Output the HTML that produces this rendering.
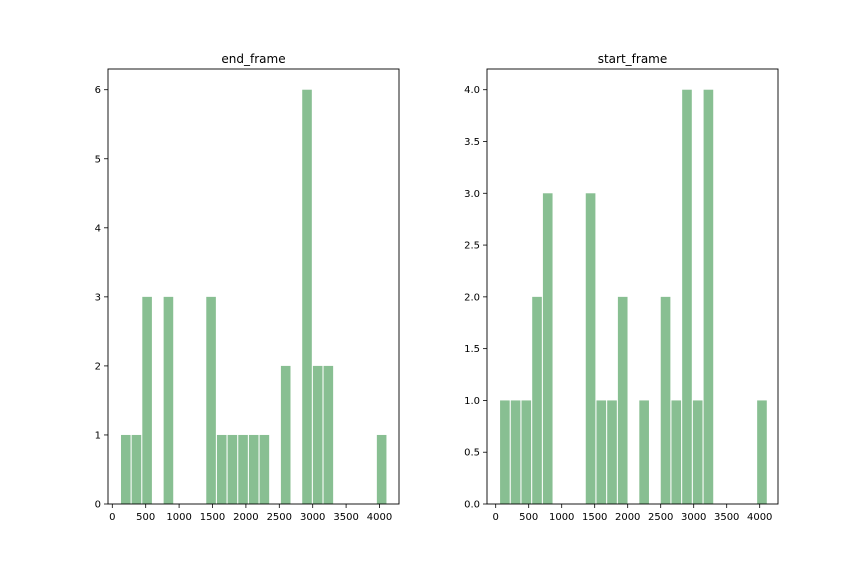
<!DOCTYPE html>
<html><head><meta charset="utf-8"><style>
body{margin:0;background:#fff;}
svg text{font-family:"DejaVu Sans","Liberation Sans",sans-serif;}
</style></head><body>
<svg id="c" width="864" height="576" xmlns="http://www.w3.org/2000/svg"></svg>
<script>
const endCounts = [1,1,3,0,3,0,0,0,3,1,1,1,1,1,0,2,0,6,2,2,0,0,0,0,1];
const startCounts = [1,1,1,2,3,0,0,0,3,1,1,2,0,1,0,2,1,4,1,4,0,0,0,0,1];
const endBinStart = 122, endBinWidth = 159.6;
const startBinStart = 58, startBinWidth = 162.3;
const xTicks = [0,500,1000,1500,2000,2500,3000,3500,4000];
const endYTicks = [0,1,2,3,4,5,6];
const startYTicks = [0,0.5,1,1.5,2,2.5,3,3.5,4];
const startYLabels = ["0.0","0.5","1.0","1.5","2.0","2.5","3.0","3.5","4.0"];

const svg = document.getElementById('c');
const NS = 'http://www.w3.org/2000/svg';
function mk(tag, attrs, parent){const e=document.createElementNS(NS,tag);for(const k in attrs)e.setAttribute(k,attrs[k]);(parent||svg).appendChild(e);return e;}

function panel(name, L, R, x0px, x4000px, ymax, counts, bs, bw, yt, yl, title){
  const T=69,B=504;
  const g = mk('g',{});
  
  
  const xs = v => x0px + (x4000px-x0px)*v/4000;
  const ys = v => B - (B-T)*v/ymax;
  counts.forEach((c,i)=>{
    if(!c) return;
    const a=bs+i*bw, w=bw*0.9, xa=xs(a+bw*0.05);
    const r=mk('rect',{x:xa,y:ys(c),width:xs(a+bw*0.05+w)-xa,height:B-ys(c),fill:'#88bf92'},g);
    
    
  });
  const fr=mk('rect',{x:L,y:T,width:R-L,height:B-T,fill:'none',stroke:'#000','stroke-width':0.9},g);
  
  
  xTicks.forEach(v=>{
    const x=xs(v);
    mk('line',{x1:x,x2:x,y1:B,y2:B+4,stroke:'#000','stroke-width':0.8},g);
    const t=mk('text',{x:x,y:B+16,'font-size':10,'text-anchor':'middle',fill:'#000'},g);
    t.textContent=v;
    
    
  });
  yt.forEach((v,i)=>{
    const y=ys(v);
    mk('line',{x1:L-4,x2:L,y1:y,y2:y,stroke:'#000','stroke-width':0.8},g);
    const t=mk('text',{x:L-7,y:y+3.5,'font-size':10,'text-anchor':'end',fill:'#000'},g);
    t.textContent=yl[i];
    
    
  });
  const tt=mk('text',{x:(L+R)/2,y:T-6,'font-size':12,'text-anchor':'middle',fill:'#000'},g);
  tt.textContent=title;
  
  
}
panel('end-frame',108,399,112.3,379.5,6.3,endCounts,endBinStart,endBinWidth,endYTicks,endYTicks.map(String),'end_frame');
panel('start-frame',487,778,495.7,759.7,4.2,startCounts,startBinStart,startBinWidth,startYTicks,startYLabels,'start_frame');
</script>
</body></html>
